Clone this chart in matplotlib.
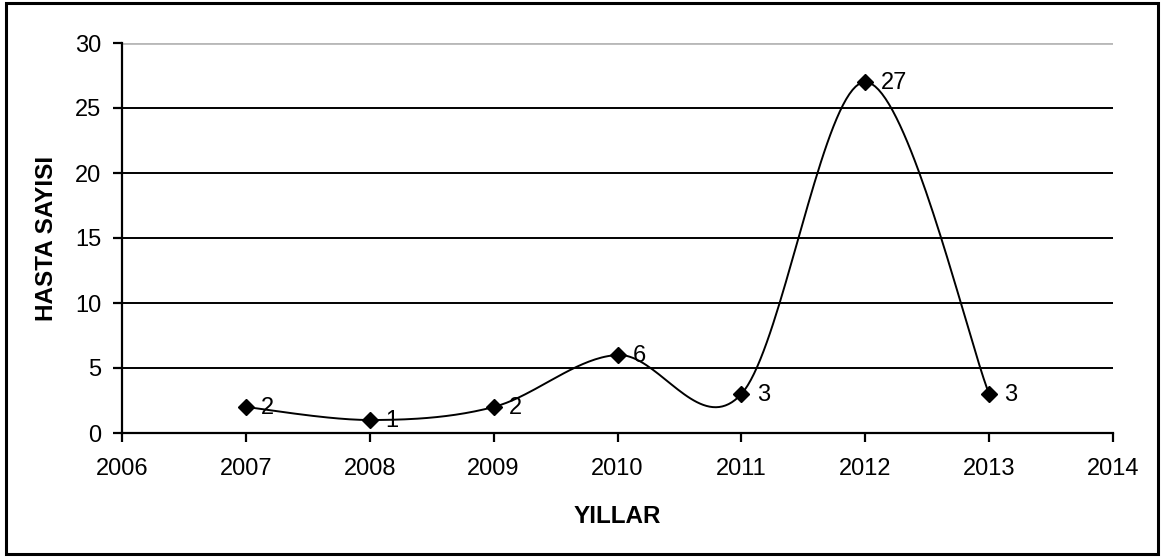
import numpy as np
import matplotlib.pyplot as plt
from matplotlib.patches import Rectangle

plt.rcParams['font.family'] = ['Liberation Sans', 'DejaVu Sans']

years = [2007, 2008, 2009, 2010, 2011, 2012, 2013]
patients = [2, 1, 2, 6, 3, 27, 3]
x_ticks = [2006, 2007, 2008, 2009, 2010, 2011, 2012, 2013, 2014]
y_ticks = [0, 5, 10, 15, 20, 25, 30]


def smooth_curve(xs, ys, n=40):
    # Catmull-Rom style cubic Bezier through every point (spreadsheet smoothing)
    pts = np.column_stack([xs, ys]).astype(float)
    padded = np.vstack([pts[0], pts, pts[-1]])
    out = []
    t = np.linspace(0, 1, n)[:, None]
    for i in range(1, len(padded) - 2):
        p0, p1, p2, p3 = padded[i - 1], padded[i], padded[i + 1], padded[i + 2]
        c1 = p1 + (p2 - p0) / 6
        c2 = p2 - (p3 - p1) / 6
        seg = ((1 - t) ** 3) * p1 + 3 * ((1 - t) ** 2) * t * c1 \
            + 3 * (1 - t) * t ** 2 * c2 + t ** 3 * p2
        out.append(seg if i == 1 else seg[1:])
    seg = np.vstack(out)
    return seg[:, 0], seg[:, 1]


W, H = 1161, 557
fig = plt.figure(figsize=(W / 100, H / 100), dpi=100)
ax = fig.add_axes([122 / W, 1 - 433 / H, (1113 - 122) / W, (433 - 43) / H])

# outer chart border
fig.patches.append(Rectangle((6 / W, 1 - 554 / H), 1152 / W, 551 / H,
                             transform=fig.transFigure, fill=False,
                             edgecolor='black', linewidth=2.2))

for yv in y_ticks[1:-1]:
    ax.axhline(yv, color='black', linewidth=1.4, zorder=1)
ax.axhline(y_ticks[-1], color='#b8b8b8', linewidth=2, zorder=1)

sx, sy = smooth_curve(years, patients)
ax.plot(sx, sy, color='black', linewidth=1.4, zorder=2)
ax.plot(years, patients, linestyle='none', marker='D', markersize=8,
        color='black', zorder=3)

for xv, yv in zip(years, patients):
    ax.annotate(str(yv), (xv, yv), xytext=(11, -1), textcoords='offset points',
                ha='left', va='center', fontsize=17)

ax.set_xlim(2006, 2014)
ax.set_ylim(0, 30)
ax.set_xticks(x_ticks)
ax.set_yticks(y_ticks)
ax.tick_params(axis='both', labelsize=17, direction='out', length=6.5, width=1.6,
               color='black')
ax.tick_params(axis='x', pad=11.5)
ax.tick_params(axis='y', pad=8.5)

for side in ['top', 'right']:
    ax.spines[side].set_visible(False)
for side in ['left', 'bottom']:
    ax.spines[side].set_linewidth(1.6)

ax.set_xlabel('YILLAR', fontsize=17.5, fontweight='bold', labelpad=18)
ax.set_ylabel('HASTA SAYISI', fontsize=17.5, fontweight='bold', labelpad=12)

fig.savefig('out.png', dpi=100)
